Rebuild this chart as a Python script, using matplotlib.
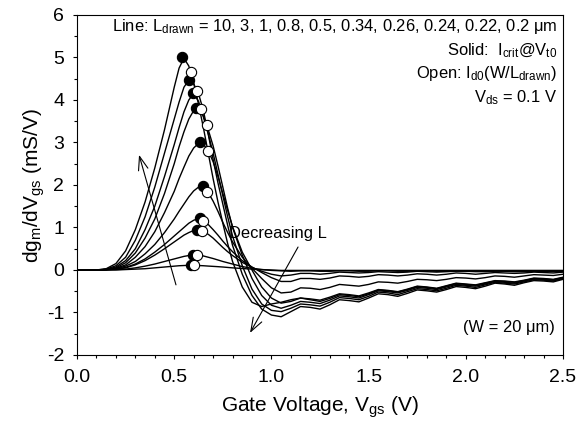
import numpy as np
import matplotlib
matplotlib.use("Agg")
import matplotlib.pyplot as plt
from matplotlib.ticker import MultipleLocator, FormatStrFormatter

plt.rcParams['font.family'] = ['Liberation Sans', 'DejaVu Sans']
plt.rcParams['mathtext.fontset'] = 'custom'
plt.rcParams['mathtext.rm'] = 'Liberation Sans'
plt.rcParams['mathtext.it'] = 'Liberation Sans:italic'
plt.rcParams['axes.unicode_minus'] = False

# gate voltage grid (V)
vgs = [0.0, 0.1, 0.15, 0.2, 0.25, 0.3, 0.35, 0.4, 0.45,
       0.5, 0.525, 0.55, 0.575, 0.6, 0.625, 0.65, 0.675, 0.7, 0.725, 0.75, 0.775, 0.8,
       0.85, 0.9, 0.95, 1.0, 1.05, 1.1, 1.15, 1.2, 1.25, 1.3, 1.35, 1.4, 1.45, 1.5,
       1.55, 1.6, 1.65, 1.7, 1.75, 1.8, 1.85, 1.9, 1.95, 2.0, 2.05, 2.1, 2.15, 2.2,
       2.25, 2.3, 2.35, 2.4, 2.45, 2.5]

L_drawn = [0.2, 0.22, 0.24, 0.26, 0.34, 0.5, 0.8, 1, 3, 10]

# dgm/dVgs (mS/V), one list per channel length
d_L020 = [0, 0, 0.03, 0.15, 0.45, 0.95, 1.6, 2.4, 3.3,
          4.3, 4.75, 4.98, 4.8, 4.4, 3.9, 3.35, 2.75, 2.15, 1.6, 1.1, 0.62, 0.2,
          -0.4, -0.76, -0.86, -0.8, -0.76, -0.7, -0.66, -0.7, -0.74, -0.67, -0.58, -0.6, -0.63, -0.56,
          -0.47, -0.49, -0.52, -0.46, -0.39, -0.41, -0.44, -0.38, -0.32, -0.34, -0.36, -0.31, -0.26, -0.27,
          -0.29, -0.25, -0.2, -0.21, -0.23, -0.18]
d_L022 = [0, 0, 0.02, 0.1, 0.3, 0.7, 1.25, 1.95, 2.75,
          3.55, 3.95, 4.3, 4.47, 4.38, 4.15, 3.75, 3.2, 2.6, 2.05, 1.55, 1.05, 0.58,
          -0.1, -0.6, -0.92, -1.06, -1.1, -0.98, -0.86, -0.88, -0.92, -0.82, -0.7, -0.72, -0.75, -0.66,
          -0.56, -0.58, -0.62, -0.55, -0.47, -0.49, -0.52, -0.46, -0.39, -0.41, -0.44, -0.38, -0.31, -0.33,
          -0.36, -0.3, -0.25, -0.26, -0.28, -0.22]
d_L024 = [0, 0, 0.01, 0.07, 0.22, 0.5, 0.95, 1.5, 2.2,
          2.95, 3.35, 3.72, 4.0, 4.15, 3.97, 3.6, 3.2, 2.75, 2.25, 1.75, 1.25, 0.8,
          0.1, -0.45, -0.8, -0.95, -0.98, -0.9, -0.8, -0.82, -0.85, -0.76, -0.65, -0.67, -0.7, -0.62,
          -0.52, -0.54, -0.58, -0.51, -0.44, -0.46, -0.49, -0.43, -0.36, -0.38, -0.41, -0.35, -0.29, -0.31,
          -0.33, -0.28, -0.23, -0.24, -0.26, -0.2]
d_L026 = [0, 0, 0.01, 0.05, 0.17, 0.4, 0.75, 1.2, 1.8,
          2.5, 2.9, 3.25, 3.55, 3.75, 3.78, 3.62, 3.3, 2.92, 2.45, 1.95, 1.45, 1.0,
          0.35, -0.2, -0.6, -0.83, -0.9, -0.83, -0.74, -0.76, -0.79, -0.71, -0.61, -0.63, -0.66, -0.58,
          -0.49, -0.51, -0.54, -0.48, -0.41, -0.43, -0.46, -0.4, -0.34, -0.36, -0.38, -0.33, -0.27, -0.29,
          -0.31, -0.26, -0.21, -0.22, -0.24, -0.19]
d_L034 = [0, 0, 0.01, 0.04, 0.12, 0.3, 0.55, 0.9, 1.35,
          1.85, 2.15, 2.42, 2.68, 2.87, 2.98, 2.96, 2.8, 2.55, 2.2, 1.8, 1.4, 1.02,
          0.42, 0.0, -0.4, -0.66, -0.78, -0.74, -0.66, -0.68, -0.71, -0.64, -0.56, -0.58, -0.61, -0.54,
          -0.46, -0.48, -0.51, -0.45, -0.38, -0.4, -0.43, -0.37, -0.31, -0.33, -0.35, -0.3, -0.25, -0.26,
          -0.28, -0.24, -0.19, -0.2, -0.22, -0.17]
d_L050 = [0, 0, 0.01, 0.03, 0.09, 0.2, 0.38, 0.6, 0.88,
          1.2, 1.38, 1.55, 1.72, 1.86, 1.95, 1.98, 1.82, 1.62, 1.38, 1.12, 0.88, 0.66,
          0.3, 0.04, -0.2, -0.42, -0.54, -0.52, -0.42, -0.43, -0.46, -0.41, -0.34, -0.36, -0.38, -0.34,
          -0.28, -0.29, -0.31, -0.27, -0.22, -0.23, -0.25, -0.22, -0.18, -0.19, -0.21, -0.18, -0.14, -0.15,
          -0.17, -0.14, -0.11, -0.12, -0.13, -0.1]
d_L080 = [0, 0, 0.01, 0.02, 0.06, 0.14, 0.26, 0.42, 0.6,
          0.8, 0.9, 1.0, 1.1, 1.17, 1.21, 1.17, 1.07, 0.95, 0.82, 0.68, 0.55, 0.43,
          0.22, 0.07, -0.06, -0.18, -0.27, -0.27, -0.2, -0.2, -0.22, -0.19, -0.14, -0.15, -0.17, -0.15,
          -0.11, -0.12, -0.14, -0.12, -0.09, -0.1, -0.12, -0.1, -0.07, -0.08, -0.1, -0.08, -0.06, -0.07,
          -0.08, -0.07, -0.05, -0.06, -0.07, -0.05]
d_L1 = [0, 0, 0.01, 0.02, 0.05, 0.12, 0.22, 0.35, 0.5,
        0.66, 0.74, 0.82, 0.88, 0.93, 0.94, 0.9, 0.84, 0.75, 0.64, 0.53, 0.43, 0.34,
        0.18, 0.06, -0.03, -0.1, -0.14, -0.12, -0.08, -0.08, -0.1, -0.08, -0.05, -0.06, -0.07, -0.06,
        -0.04, -0.05, -0.06, -0.05, -0.03, -0.04, -0.05, -0.04, -0.03, -0.03, -0.04, -0.04, -0.03, -0.03,
        -0.04, -0.04, -0.03, -0.03, -0.04, -0.04]
d_L3 = [0, 0, 0.0, 0.01, 0.02, 0.05, 0.09, 0.14, 0.2,
        0.26, 0.29, 0.32, 0.34, 0.36, 0.35, 0.33, 0.3, 0.27, 0.235, 0.2, 0.17, 0.14,
        0.08, 0.04, 0.01, -0.01, -0.02, -0.03, -0.02, -0.02, -0.03, -0.03, -0.02, -0.02, -0.03, -0.03,
        -0.02, -0.02, -0.03, -0.03, -0.02, -0.02, -0.03, -0.03, -0.02, -0.02, -0.03, -0.03, -0.02, -0.02,
        -0.03, -0.03, -0.02, -0.03, -0.03, -0.03]
d_L10 = [0, 0, 0.0, 0.0, 0.01, 0.02, 0.03, 0.05, 0.07,
         0.09, 0.1, 0.105, 0.11, 0.11, 0.105, 0.1, 0.092, 0.085, 0.078, 0.07, 0.06, 0.05,
         0.035, 0.02, 0.01, 0.0, -0.01, -0.01, -0.01, -0.01, -0.01, -0.01, -0.01, -0.01, -0.01, -0.01,
         -0.01, -0.01, -0.01, -0.01, -0.01, -0.01, -0.01, -0.01, -0.01, -0.01, -0.01, -0.01, -0.01, -0.01,
         -0.01, -0.01, -0.01, -0.01, -0.01, -0.01]

curves = [d_L020, d_L022, d_L024, d_L026, d_L034, d_L050, d_L080, d_L1, d_L3, d_L10]

# solid: Icrit @ Vt0, open: Id0(W/Ldrawn)
solid_v = [0.542, 0.578, 0.595, 0.611, 0.633, 0.647, 0.633, 0.616, 0.595, 0.585]
solid_y = [5.0, 4.47, 4.16, 3.80, 3.0, 1.98, 1.22, 0.94, 0.36, 0.115]
open_v = [0.586, 0.619, 0.636, 0.667, 0.675, 0.67, 0.65, 0.641, 0.616, 0.60]
open_y = [4.65, 4.21, 3.79, 3.42, 2.80, 1.84, 1.16, 0.92, 0.355, 0.11]

fig = plt.figure(figsize=(5.88, 4.22), dpi=100)
ax = fig.add_axes([0.131, 0.1588, 0.8265, 0.8057])

for c in curves:
    ax.plot(vgs, c, color='black', lw=1.0)

ax.plot(solid_v, solid_y, 'o', ms=7.4, mfc='black', mec='black', mew=0.8, zorder=3)
ax.plot(open_v, open_y, 'o', ms=7.4, mfc='white', mec='black', mew=0.8, zorder=4)

arr = dict(arrowstyle='->,head_length=0.7,head_width=0.25', color='black', lw=0.8,
           mutation_scale=14, shrinkA=0, shrinkB=0)
ax.annotate('', xy=(0.319, 2.71), xytext=(0.509, -0.35), arrowprops=arr)
ax.annotate('', xy=(0.89, -1.48), xytext=(1.137, 0.54), arrowprops=arr)

fs = 11.9
ax.text(0.78, 0.87, 'Decreasing L', fontsize=fs, ha='left', va='center')
ax.text(2.47, 5.62, 'Line: L$_{\\mathrm{drawn}}$ = 10, 3, 1, 0.8, 0.5, 0.34, 0.26, 0.24, 0.22, 0.2 \u03bcm',
        fontsize=fs, ha='right', va='baseline')
ax.text(2.47, 5.04, 'Solid:  I$_{\\mathrm{crit}}$@V$_{\\mathrm{t0}}$', fontsize=fs, ha='right', va='baseline')
ax.text(2.47, 4.52, 'Open: I$_{\\mathrm{d0}}$(W/L$_{\\mathrm{drawn}}$)', fontsize=fs, ha='right', va='baseline')
ax.text(2.47, 3.95, 'V$_{\\mathrm{ds}}$ = 0.1 V', fontsize=fs, ha='right', va='baseline')
ax.text(2.46, -1.46, '(W = 20 \u03bcm)', fontsize=fs, ha='right', va='baseline')

ax.set_xlim(0, 2.5)
ax.set_ylim(-2, 6)
ax.xaxis.set_major_locator(MultipleLocator(0.5))
ax.xaxis.set_minor_locator(MultipleLocator(0.1))
ax.xaxis.set_major_formatter(FormatStrFormatter('%.1f'))
ax.yaxis.set_major_locator(MultipleLocator(1))
ax.yaxis.set_minor_locator(MultipleLocator(0.5))
ax.tick_params(which='both', direction='out', top=False, right=False, width=0.8, labelsize=14)
ax.tick_params(axis='x', which='major', length=3.2, pad=7)
ax.tick_params(axis='y', which='major', length=3.2, pad=6)
ax.tick_params(which='minor', length=2.4)
for s in ax.spines.values():
    s.set_linewidth(0.8)

ax.set_xlabel('Gate Voltage, V$_{\\mathrm{gs}}$ (V)', fontsize=15, labelpad=6)
ax.set_ylabel('dg$_{\\mathrm{m}}$/dV$_{\\mathrm{gs}}$ (mS/V)', fontsize=15, labelpad=0)

fig.savefig('out.png', dpi=100)
